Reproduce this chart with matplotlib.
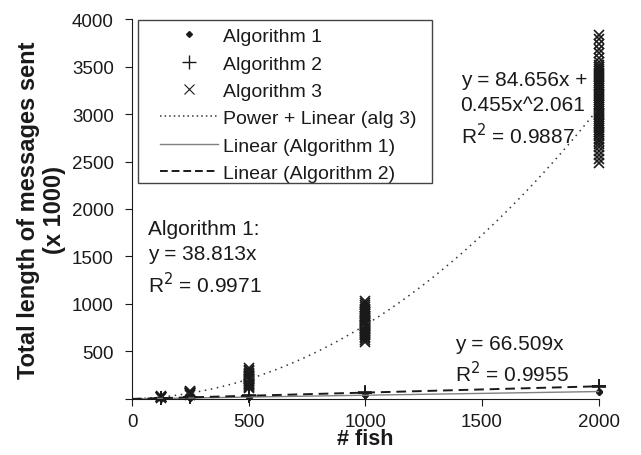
import numpy as np
import matplotlib
matplotlib.use('Agg')
import matplotlib.pyplot as plt
from matplotlib.lines import Line2D
from matplotlib.patches import Rectangle
from matplotlib.legend_handler import HandlerLine2D

plt.rcParams['font.family'] = ['Liberation Sans', 'DejaVu Sans']

# fish counts used in the experiments
fish_counts = [125, 250, 500, 1000, 2000]

# Algorithm 1 (x 1000), a few runs per fish count
alg1_values = {
    125: [4, 5, 6],
    250: [9, 10, 11],
    500: [18, 20, 22],
    1000: [36, 39, 42],
    2000: [72, 76, 80],
}
# Algorithm 2 (x 1000)
alg2_values = {
    125: [7, 8, 10],
    250: [15, 17, 19],
    500: [30, 34, 37],
    1000: [60, 66, 71],
    2000: [126, 133, 141],
}
# Algorithm 3 (x 1000), many runs per fish count
alg3_values = {
    125: [12, 15, 18, 20, 22, 25, 28],
    250: [45, 52, 58, 62, 66, 70, 76, 82],
    500: [118, 130, 140, 148, 155, 162, 170, 178, 185, 192, 200, 207, 214, 222,
          230, 238, 246, 255, 265, 278, 292, 308, 324],
    1000: [600, 618, 640, 655, 668, 678, 688, 698, 708, 718, 728, 738, 748, 758,
           768, 778, 788, 798, 808, 818, 828, 838, 848, 858, 868, 878, 890, 902,
           915, 930, 948, 968, 990, 1010, 1030],
    2000: [2480, 2525, 2570, 2610, 2650, 2685, 2715, 2740, 2765, 2790, 2810, 2830,
           2850, 2870, 2890, 2910, 2930, 2950, 2970, 2990, 3010, 3030, 3050, 3070,
           3090, 3110, 3130, 3150, 3170, 3190, 3210, 3230, 3250, 3270, 3290, 3310,
           3330, 3350, 3370, 3390, 3410, 3430, 3450, 3470, 3495, 3520, 3550, 3590,
           3640, 3690, 3740, 3790, 3835],
}

# trendline coefficients shown on the chart (raw units)
alg1_slope = 38.813
alg2_slope = 66.509
alg3_lin, alg3_coef, alg3_pow = 84.656, 0.455, 2.061

ink = '#1a1a1a'

fig = plt.figure(figsize=(6.41, 4.56), dpi=100)
ax = fig.add_axes([0.206, 0.123, 0.728, 0.833])

def scatter_group(values, **kw):
    xs, ys = [], []
    for x, vals in values.items():
        xs += [x] * len(vals)
        ys += vals
    ax.plot(xs, ys, linestyle='none', clip_on=False, **kw)

scatter_group(alg1_values, marker='D', markersize=3, color=ink)
scatter_group(alg2_values, marker='+', markersize=10, markeredgewidth=1.2, color=ink)
scatter_group(alg3_values, marker='x', markersize=7, markeredgewidth=1.2, color=ink)

xfit = np.linspace(0, 2000, 400)
ax.plot(xfit, (alg3_lin * xfit + alg3_coef * xfit ** alg3_pow) / 1000,
        linestyle=(0, (1, 3)), color='#333333', linewidth=1.1)
ax.plot(xfit, alg1_slope * xfit / 1000, color='#808080', linewidth=1.0)
ax.plot(xfit, alg2_slope * xfit / 1000, linestyle=(0, (5, 3)), color=ink, linewidth=1.4)

ax.set_xlim(0, 2000)
ax.set_ylim(0, 4000)
ax.set_xticks([0, 500, 1000, 1500, 2000])
ax.set_yticks([0, 500, 1000, 1500, 2000, 2500, 3000, 3500, 4000])
ax.set_yticklabels(['', '500', '1000', '1500', '2000', '2500', '3000', '3500', '4000'])
ax.tick_params(direction='out', length=5, labelsize=13.5, pad=8, colors=ink)
ax.tick_params(axis='x', pad=5)
for side in ['top', 'right']:
    ax.spines[side].set_visible(False)
for side in ['left', 'bottom']:
    ax.spines[side].set_color(ink)

ax.set_xlabel('# fish', fontsize=15.5, fontweight='bold', labelpad=-1, color=ink)
ax.set_ylabel('Total length of messages sent\n(x 1000)', fontsize=17,
              fontweight='bold', linespacing=1.2, labelpad=4, color=ink)

ax.text(68, 1490, 'Algorithm 1:\ny = 38.813x\nR$^2$ = 0.9971', fontsize=15,
        va='center', ha='left', linespacing=1.38, color=ink)
ax.text(1408, 3060, 'y = 84.656x +\n0.455x^2.061\nR$^2$ = 0.9887', fontsize=15,
        va='center', ha='left', linespacing=1.38, color=ink)
ax.text(1385, 415, 'y = 66.509x\nR$^2$ = 0.9955', fontsize=15,
        va='center', ha='left', linespacing=1.33, color=ink)

handles = [
    Line2D([], [], linestyle='none', marker='D', markersize=3, color=ink),
    Line2D([], [], linestyle='none', marker='+', markersize=10, markeredgewidth=1.0, color=ink),
    Line2D([], [], linestyle='none', marker='x', markersize=7, markeredgewidth=0.8, color=ink),
    Line2D([], [], linestyle=(0, (1, 2)), color='#333333', linewidth=1.1),
    Line2D([], [], color='#808080', linewidth=1.0),
    Line2D([], [], linestyle=(0, (4, 2)), color=ink, linewidth=1.4),
]
labels = ['Algorithm 1', 'Algorithm 2', 'Algorithm 3', 'Power + Linear (alg 3)',
          'Linear (Algorithm 1)', 'Linear (Algorithm 2)']

# legend box drawn as its own rectangle so it can be wider than the text
box = Rectangle((0.013, 0.568), 0.630, 0.429, transform=ax.transAxes,
                facecolor='white', edgecolor='#444444', linewidth=1.0,
                clip_on=False, zorder=4.9)
ax.add_patch(box)
leg = ax.legend(handles, labels, loc='upper left', bbox_to_anchor=(0.013, 0.997),
                fontsize=14, frameon=False,
                handlelength=3.73, handletextpad=0.26, labelspacing=0.5,
                borderpad=0.38, borderaxespad=0.0,
                handler_map={Line2D: HandlerLine2D(xpad=0.75)})
for t in leg.get_texts():
    t.set_color(ink)

fig.savefig('out.png', dpi=100)
